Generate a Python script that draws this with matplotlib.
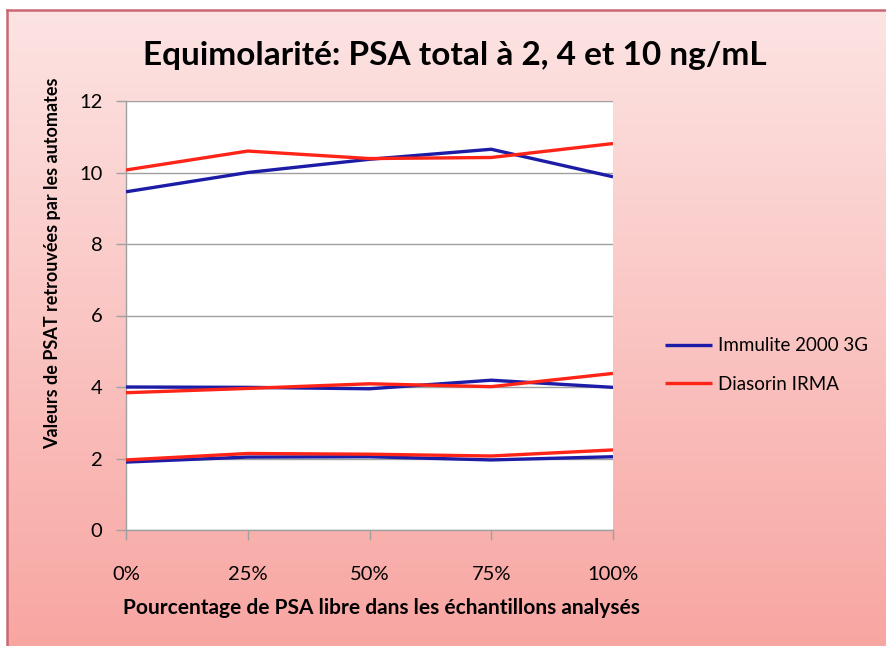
import numpy as np
import matplotlib
matplotlib.use("Agg")
import matplotlib.pyplot as plt
from matplotlib.lines import Line2D

plt.rcParams['font.family'] = ['Lato', 'DejaVu Sans']

categories = ["0%", "25%", "50%", "75%", "100%"]
yticks = [0, 2, 4, 6, 8, 10, 12]

# Immulite 2000 3G at 2, 4 and 10 ng/mL
immulite_2 = [1.90, 2.04, 2.05, 1.96, 2.05]
immulite_4 = [4.00, 3.99, 3.95, 4.19, 3.99]
immulite_10 = [9.46, 10.00, 10.37, 10.65, 9.88]
# Diasorin IRMA at 2, 4 and 10 ng/mL
diasorin_2 = [1.96, 2.14, 2.12, 2.07, 2.24]
diasorin_4 = [3.84, 3.96, 4.09, 4.01, 4.38]
diasorin_10 = [10.07, 10.60, 10.39, 10.42, 10.81]

W, H = 886, 646
fig = plt.figure(figsize=(W / 100, H / 100), dpi=100)
fig.patch.set_facecolor('white')

# background gradient panel
bg = fig.add_axes([7 / W, 0, 1 - 7 / W, 1 - 10 / H])
bg.set_axis_off()
top = np.array([252, 228, 227]) / 255
bot = np.array([248, 166, 162]) / 255
t = np.linspace(0, 1, 256)[:, None]
grad = top[None, :] * (1 - t) + bot[None, :] * t
img = np.repeat(grad[:, None, :], 2, axis=1)
bg.imshow(img, aspect='auto', extent=[0, 1, 0, 1], interpolation='bilinear')
bg.set_xlim(0, 1)
bg.set_ylim(0, 1)
# border (top and left)
fig.add_artist(Line2D([7 / W, 1], [1 - 10 / H, 1 - 10 / H], color='#c86874', lw=1.8))
fig.add_artist(Line2D([7 / W, 7 / W], [0, 1 - 10 / H], color='#c86874', lw=1.8))

ax = fig.add_axes([126 / W, 1 - 530 / H, (613 - 126) / W, (530 - 101) / H])
ax.set_facecolor('white')
x = np.arange(len(categories))

blue = '#1c1ca6'
red = '#ff2418'
lw = 2.4
for i, s in enumerate([immulite_10, immulite_4, immulite_2]):
    ax.plot(x, s, color=blue, lw=lw, label='Immulite 2000 3G' if i == 0 else None,
            solid_capstyle='butt', zorder=3)
for i, s in enumerate([diasorin_10, diasorin_4, diasorin_2]):
    ax.plot(x, s, color=red, lw=lw, label='Diasorin IRMA' if i == 0 else None,
            solid_capstyle='butt', zorder=3)

ax.set_xlim(0, 4)
ax.set_ylim(0, 12)
ax.set_yticks(yticks)
ax.set_xticks(x)
ax.set_xticklabels(categories)
ax.yaxis.grid(True, color='#a0a0a0', lw=1.0)
ax.set_axisbelow(True)
for side in ['top', 'right']:
    ax.spines[side].set_visible(False)
for side in ['left', 'bottom']:
    ax.spines[side].set_color('#a0a0a0')
    ax.spines[side].set_linewidth(1.0)
ax.tick_params(axis='both', colors='#a0a0a0', labelcolor='black', labelsize=14.5,
               length=7, width=1.0, direction='out')
ax.tick_params(axis='y', pad=10)
ax.tick_params(axis='x', pad=19)

fig.text(455 / W, 1 - 55 / H, 'Equimolarité: PSA total à 2, 4 et 10 ng/mL',
         ha='center', va='center', fontsize=24, fontweight='bold')
fig.text(53 / W, 1 - 263 / H, 'Valeurs de PSAT retrouvées par les automates',
         ha='center', va='center', rotation=90, fontsize=13, fontweight='bold')
fig.text(381 / W, 1 - 608 / H, 'Pourcentage de PSA libre dans les échantillons analysés',
         ha='center', va='center', fontsize=15, fontweight='bold')

leg = fig.legend(loc='center left', bbox_to_anchor=(652 / W, 1 - 365 / H),
                 frameon=False, fontsize=13.5, handlelength=2.5, labelspacing=1.15,
                 handletextpad=0.3, borderpad=0.2)

fig.savefig('out.png', dpi=100)
